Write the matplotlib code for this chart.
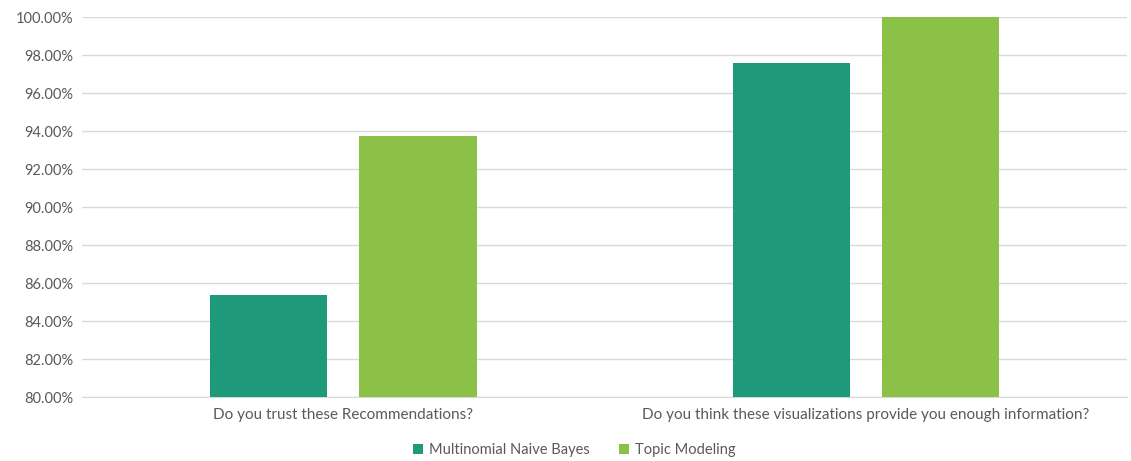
import matplotlib.pyplot as plt
import numpy as np
from matplotlib.ticker import PercentFormatter

# survey answers per question, in percent
questions = ['Do you trust these Recommendations?',
             'Do you think these visualizations provide you enough information?']
naive_bayes = [85.37, 97.56]
topic_modeling = [93.75, 100.0]
series_names = ['Multinomial Naive Bayes', 'Topic Modeling']
colors = ['#1E9A7A', '#8BC147']

plt.rcParams['font.family'] = ['Lato', 'DejaVu Sans']
text_color = '#595959'

fig = plt.figure(figsize=(11.31, 4.61), dpi=100)
ax = fig.add_axes([0.0725, 0.1388, 0.924, 0.8243])

x = np.arange(len(questions))
width = 0.224
offset = 0.143
ax.bar(x - offset, naive_bayes, width, color=colors[0], label=series_names[0], zorder=3)
ax.bar(x + offset, topic_modeling, width, color=colors[1], label=series_names[1], zorder=3)

ax.set_xlim(-0.5, 1.5)
ax.set_ylim(80, 100)
ax.set_yticks(np.arange(80, 100.1, 2))
ax.yaxis.set_major_formatter(PercentFormatter(decimals=2))
ax.set_xticks(x)
ax.set_xticklabels(questions)

# light horizontal grid, no frame
ax.grid(axis='y', color='#D9D9D9', linewidth=1, zorder=0)
for side in ['top', 'right', 'left']:
    ax.spines[side].set_visible(False)
ax.spines['bottom'].set_color('#D9D9D9')
ax.tick_params(axis='both', length=0, colors=text_color)
ax.tick_params(axis='x', pad=8, labelsize=11)
ax.tick_params(axis='y', pad=6, labelsize=10.5)

leg = fig.legend(loc='center', bbox_to_anchor=(0.508, 0.024), ncol=2, frameon=False,
                 fontsize=10.5, handlelength=0.7, handleheight=0.7,
                 handletextpad=0.4, columnspacing=2.0)
for t in leg.get_texts():
    t.set_color(text_color)

fig.savefig('out.png', dpi=100)
